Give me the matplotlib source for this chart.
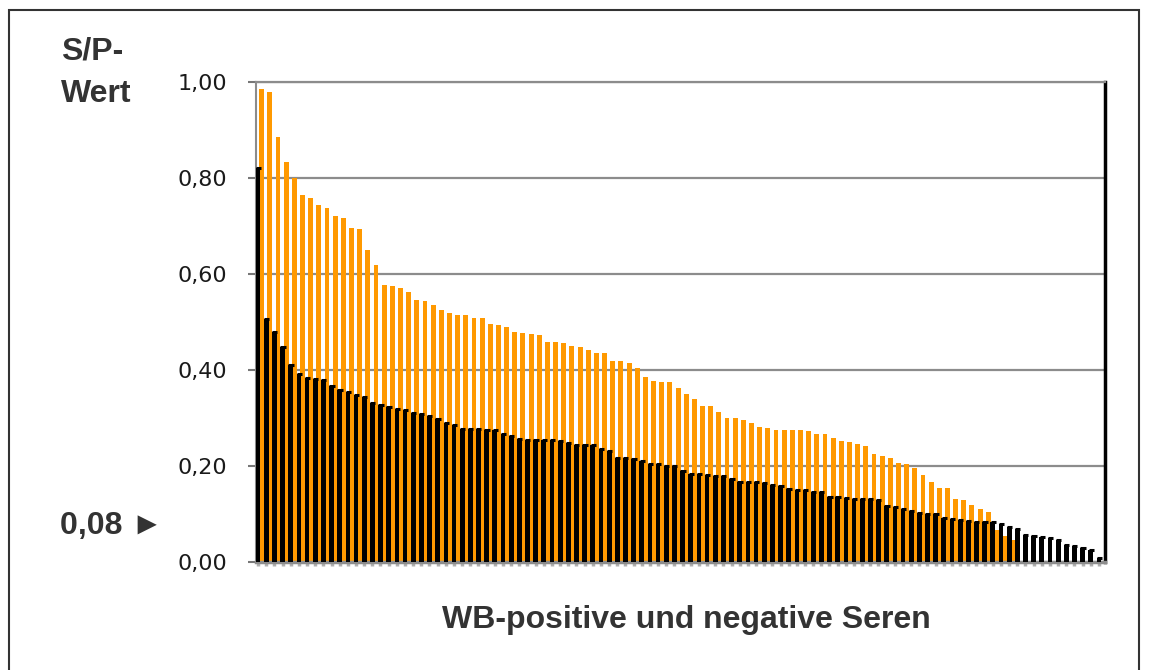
# S/P-Werte, WB-positive und negative Seren, absteigend sortiert

import matplotlib.pyplot as plt
import matplotlib.patches as patches
import numpy as np

# WB-negative Seren (schwarz), absteigend
sp_negativ = [0.820, 0.506, 0.480, 0.448, 0.410, 0.392, 0.384, 0.381, 0.379, 0.367,
              0.358, 0.355, 0.347, 0.344, 0.331, 0.327, 0.322, 0.319, 0.317, 0.310,
              0.308, 0.305, 0.297, 0.290, 0.285, 0.278, 0.277, 0.277, 0.275, 0.275,
              0.267, 0.263, 0.256, 0.254, 0.254, 0.254, 0.254, 0.253, 0.247, 0.244,
              0.244, 0.244, 0.235, 0.232, 0.216, 0.216, 0.214, 0.210, 0.204, 0.204,
              0.201, 0.201, 0.190, 0.183, 0.183, 0.181, 0.180, 0.179, 0.172, 0.167,
              0.167, 0.167, 0.165, 0.161, 0.158, 0.152, 0.150, 0.150, 0.146, 0.145,
              0.136, 0.135, 0.134, 0.131, 0.131, 0.131, 0.129, 0.117, 0.114, 0.110,
              0.107, 0.103, 0.099, 0.099, 0.091, 0.089, 0.088, 0.086, 0.084, 0.084,
              0.084, 0.079, 0.072, 0.069, 0.056, 0.055, 0.053, 0.051, 0.046, 0.035,
              0.034, 0.030, 0.026, 0.009]

# WB-positive Seren (orange), absteigend
sp_positiv = [0.985, 0.980, 0.885, 0.833, 0.800, 0.765, 0.758, 0.743, 0.737, 0.720,
              0.716, 0.695, 0.693, 0.651, 0.619, 0.578, 0.576, 0.571, 0.562, 0.545,
              0.544, 0.535, 0.525, 0.518, 0.515, 0.514, 0.508, 0.508, 0.495, 0.493,
              0.490, 0.480, 0.477, 0.474, 0.472, 0.459, 0.458, 0.456, 0.450, 0.447,
              0.442, 0.435, 0.435, 0.419, 0.419, 0.415, 0.405, 0.385, 0.378, 0.376,
              0.376, 0.362, 0.351, 0.340, 0.326, 0.325, 0.313, 0.301, 0.299, 0.296,
              0.289, 0.281, 0.279, 0.276, 0.275, 0.274, 0.274, 0.272, 0.267, 0.267,
              0.259, 0.253, 0.251, 0.246, 0.242, 0.226, 0.221, 0.216, 0.206, 0.204,
              0.195, 0.181, 0.167, 0.155, 0.154, 0.131, 0.129, 0.119, 0.110, 0.105,
              0.067, 0.054, 0.046]

yticks = [0.0, 0.2, 0.4, 0.6, 0.8, 1.0]
ytick_labels = ['0,00', '0,20', '0,40', '0,60', '0,80', '1,00']

orange = '#FF9900'
txt_col = '#333333'
grid_col = '#8c8c8c'
lab_font = 'Liberation Sans'

W, H = 1149, 670
fig = plt.figure(figsize=(W / 100, H / 100), dpi=100)
fig.patch.set_facecolor('white')

# plot area in pixels: left 256, right 1105, top 82, bottom 562
ax = fig.add_axes([256 / W, (H - 562) / H, (1105 - 256) / W, (562 - 82) / H])

x_neg = np.arange(len(sp_negativ))
x_pos = np.arange(len(sp_positiv))

ax.bar(x_pos + 0.2, sp_positiv, width=0.6, color=orange, linewidth=0, zorder=2)
ax.bar(x_neg - 0.24, sp_negativ, width=0.58, color='black', linewidth=0, zorder=3)
# kleine Kappen oben auf den schwarzen Balken
ax.hlines(sp_negativ, x_neg - 0.52, x_neg + 0.12, color='black', linewidth=2.2, zorder=4)

ax.set_xlim(-0.5, len(sp_negativ) - 0.5)
ax.set_ylim(0, 1.0)

ax.set_yticks(yticks)
ax.set_yticklabels(ytick_labels, fontsize=16, color='#1a1a1a')
ax.yaxis.grid(True, color=grid_col, linewidth=1.6, zorder=0)
ax.set_axisbelow(True)
ax.tick_params(axis='y', length=6, width=1.5, color='#777777', pad=15)

# kleine Striche unter der x-Achse
ax.set_xticks(np.arange(len(sp_negativ)) - 0.25)
ax.set_xticklabels([])
ax.tick_params(axis='x', length=3, width=2.5, color='#b0b0b0')

for side in ['left', 'bottom', 'top']:
    ax.spines[side].set_color(grid_col)
ax.spines['left'].set_linewidth(1.5)
ax.spines['bottom'].set_linewidth(2.5)
ax.spines['top'].set_linewidth(1.6)
ax.spines['right'].set_color('black')
ax.spines['right'].set_linewidth(2.5)

fig.text(61 / W, 1 - 51 / H, 'S/P-', fontsize=23, fontweight='bold', family=lab_font,
         color=txt_col, va='center', ha='left')
fig.text(61 / W, 1 - 94 / H, 'Wert', fontsize=23, fontweight='bold', family=lab_font,
         color=txt_col, va='center', ha='left')
fig.text(60 / W, 1 - 526 / H, '0,08 \u25BA', fontsize=23, fontweight='bold',
         family=[lab_font, 'DejaVu Sans'], color=txt_col, va='center', ha='left')
fig.text(686 / W, 1 - 620 / H, 'WB-positive und negative Seren', fontsize=23,
         fontweight='bold', family=lab_font, color=txt_col, va='center', ha='center')

# Rahmen um die Grafik
frame = patches.Rectangle((9 / W, -0.02), (1139 - 9) / W, (H - 10) / H + 0.02,
                          transform=fig.transFigure, fill=False,
                          edgecolor='#333333', linewidth=1.5)
fig.patches.append(frame)

plt.savefig('out.png', dpi=100)
